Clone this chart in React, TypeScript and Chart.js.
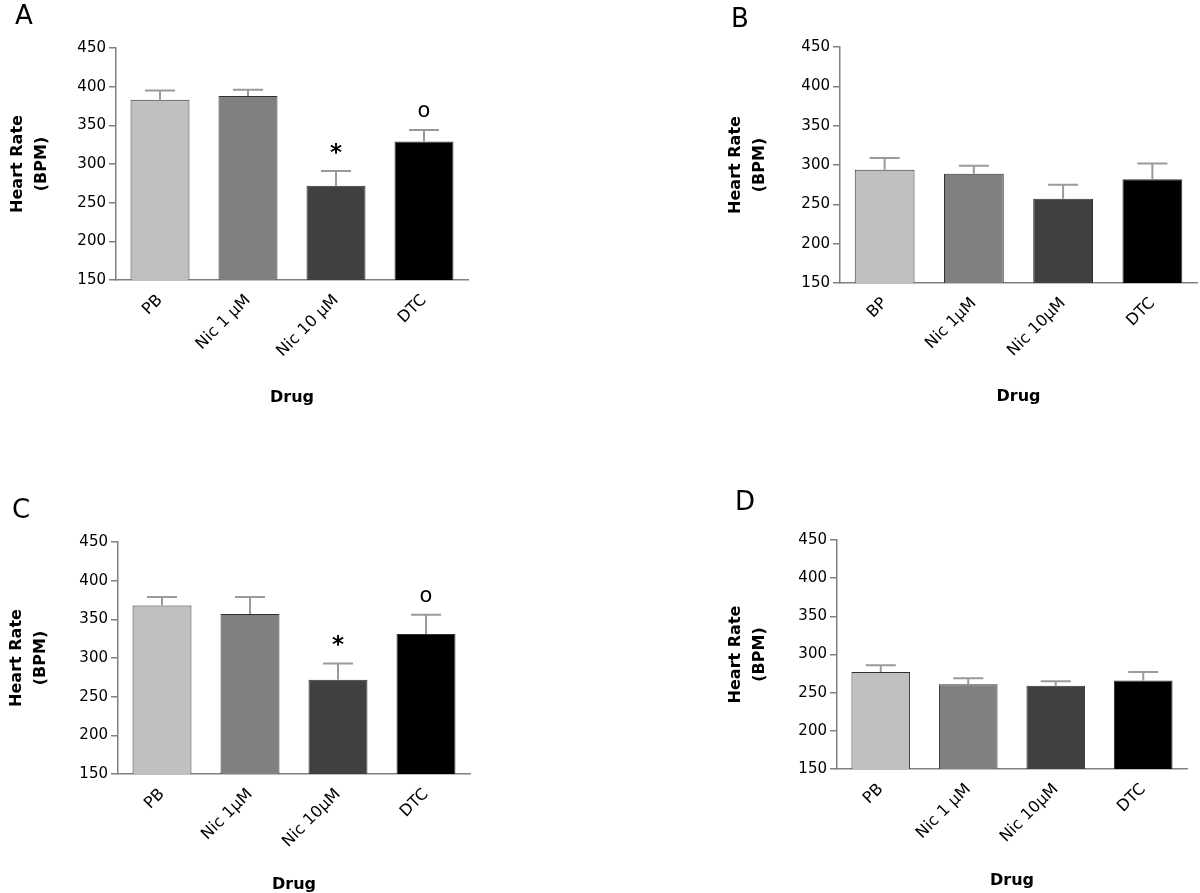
import React, { useEffect, useRef } from 'react';
import { Chart, registerables } from 'chart.js';

Chart.register(...registerables);

// ---------- data ----------
const yTickValues = [150, 200, 250, 300, 350, 400, 450];
const barColors = ['#c0c0c0', '#808080', '#404040', '#000000'];

const labelsA = ['PB', 'Nic 1 μM', 'Nic 10 μM', 'DTC'];
const meansA = [383, 388, 272, 329];
const semsA = [12, 8, 19, 15];
const marksA = ['', '', '*', 'o'];

const labelsB = ['BP', 'Nic 1μM', 'Nic 10μM', 'DTC'];
const meansB = [294, 289, 257, 282];
const semsB = [15, 10, 18, 20];
const marksB = ['', '', '', ''];

const labelsC = ['PB', 'Nic 1μM', 'Nic 10μM', 'DTC'];
const meansC = [368, 357, 272, 331];
const semsC = [11, 22, 21, 25];
const marksC = ['', '', '*', 'o'];

const labelsD = ['PB', 'Nic 1 μM', 'Nic 10μM', 'DTC'];
const meansD = [277, 261, 259, 266];
const semsD = [9, 8, 6, 11];
const marksD = ['', '', '', ''];

const yTitle = ['Heart Rate', '(BPM)'];
const xTitle = 'Drug';

const FONT = "'DejaVu Sans', 'Liberation Sans', Arial, sans-serif";

type Box = { x: number; y: number; w: number; h: number };
type Area = { l: number; r: number; t: number; b: number };

type PanelProps = {
  box: Box;
  area: Area;
  titleLine1: number;
  drugY: number;
  labels: string[];
  means: number[];
  sems: number[];
  marks: string[];
  letter: string;
  letterPos: { left: number; top: number };
};

const errorBarPlugin = {
  id: 'errorBars',
  afterDatasetsDraw(chart: any, _args: any, opts: any) {
    const { ctx } = chart;
    const meta = chart.getDatasetMeta(0);
    const yScale = chart.scales.y;
    const sems: number[] = opts.sems || [];
    const means: number[] = opts.means || [];
    const marks: string[] = opts.marks || [];
    ctx.save();
    meta.data.forEach((bar: any, i: number) => {
      const x = bar.x;
      const y0 = yScale.getPixelForValue(means[i]);
      const y1 = yScale.getPixelForValue(means[i] + sems[i]);
      ctx.strokeStyle = '#9a9a9a';
      ctx.lineWidth = 2;
      ctx.beginPath();
      ctx.moveTo(x, y0);
      ctx.lineTo(x, y1);
      ctx.moveTo(x - 15, y1);
      ctx.lineTo(x + 15, y1);
      ctx.stroke();
      const m = marks[i];
      if (m) {
        ctx.fillStyle = '#000';
        ctx.textAlign = 'center';
        ctx.textBaseline = 'alphabetic';
        if (m === '*') {
          ctx.font = `bold 23px ${FONT}`;
          ctx.fillText(m, x, y1 - 23 + 12);
        } else {
          ctx.font = `21px ${FONT}`;
          ctx.fillText(m, x, y1 - 19 + 6);
        }
      }
    });
    ctx.restore();
  },
};

function Panel(p: PanelProps) {
  const ref = useRef<HTMLCanvasElement>(null);
  useEffect(() => {
    if (!ref.current) return;
    const { box, area } = p;
    const yTitleLH = 24;
    const xTitleLH = 16 * 1.2;
    const chart = new Chart(ref.current, {
      type: 'bar',
      data: {
        labels: p.labels,
        datasets: [
          {
            data: p.means,
            backgroundColor: barColors,
            borderColor: '#303030',
            borderWidth: 1,
            barPercentage: 0.67,
            categoryPercentage: 1,
          },
        ],
      },
      options: {
        responsive: false,
        animation: false,
        devicePixelRatio: 1,
        layout: {
          padding: {
            left: 0,
            top: area.t - box.y,
            right: box.x + box.w - area.r,
            bottom: 0,
          },
        },
        plugins: {
          legend: { display: false },
          tooltip: { enabled: false },
          errorBars: { means: p.means, sems: p.sems, marks: p.marks },
        } as any,
        scales: {
          x: {
            grid: { display: false, drawTicks: true, tickLength: 8 },
            border: { display: true, color: '#808080', width: 1.5 },
            ticks: {
              autoSkip: false,
              minRotation: 45,
              maxRotation: 45,
              padding: 3,
              color: '#000',
              font: { family: FONT, size: 16 },
            },
            title: {
              display: true,
              text: xTitle,
              color: '#000',
              font: { family: FONT, size: 16, weight: 'bold', lineHeight: 1.2 },
              padding: { top: 0, bottom: box.y + box.h - p.drugY - xTitleLH / 2 },
            },
            afterFit: (s: any) => {
              s.height = box.y + box.h - area.b;
            },
          },
          y: {
            min: 150,
            max: 450,
            afterBuildTicks: (s: any) => {
              s.ticks = yTickValues.map((v) => ({ value: v }));
            },
            grid: {
              display: true,
              drawOnChartArea: false,
              drawTicks: true,
              tickLength: 7,
              color: '#808080',
              lineWidth: 1.5,
            },
            border: { display: true, color: '#808080', width: 1.5 },
            ticks: {
              padding: 3,
              color: '#000',
              font: { family: FONT, size: 15 },
            },
            title: {
              display: true,
              text: yTitle,
              color: '#000',
              font: { family: FONT, size: 16, weight: 'bold', lineHeight: 1.5 },
              padding: { top: p.titleLine1 - box.x - yTitleLH / 2, bottom: 0 },
            },
            afterFit: (s: any) => {
              s.width = area.l - box.x;
            },
          },
        },
      },
      plugins: [errorBarPlugin],
    });
    return () => chart.destroy();
  }, []);
  const { box } = p;
  return (
    <>
      <canvas
        ref={ref}
        width={box.w}
        height={box.h}
        style={{ position: 'absolute', left: box.x, top: box.y, width: box.w, height: box.h }}
      />
      <div
        style={{
          position: 'absolute',
          left: p.letterPos.left,
          top: p.letterPos.top,
          fontFamily: FONT,
          fontSize: 26,
          lineHeight: '26px',
          color: '#000',
        }}
      >
        {p.letter}
      </div>
    </>
  );
}

export default function App() {
  return (
    <div
      style={{
        position: 'absolute',
        left: 0,
        top: 0,
        width: 1200,
        height: 893,
        background: '#fff',
        overflow: 'hidden',
      }}
    >
      <Panel
        box={{ x: 0, y: 0, w: 480, h: 430 }}
        area={{ l: 116, r: 468, t: 48, b: 280 }}
        titleLine1={18}
        drugY={398}
        labels={labelsA}
        means={meansA}
        sems={semsA}
        marks={marksA}
        letter="A"
        letterPos={{ left: 15, top: 2 }}
      />
      <Panel
        box={{ x: 720, y: 0, w: 480, h: 430 }}
        area={{ l: 840, r: 1197, t: 47, b: 283 }}
        titleLine1={736}
        drugY={397}
        labels={labelsB}
        means={meansB}
        sems={semsB}
        marks={marksB}
        letter="B"
        letterPos={{ left: 731, top: 5 }}
      />
      <Panel
        box={{ x: 0, y: 470, w: 480, h: 423 }}
        area={{ l: 118, r: 470, t: 542, b: 774 }}
        titleLine1={17}
        drugY={885}
        labels={labelsC}
        means={meansC}
        sems={semsC}
        marks={marksC}
        letter="C"
        letterPos={{ left: 12, top: 496 }}
      />
      <Panel
        box={{ x: 720, y: 460, w: 480, h: 433 }}
        area={{ l: 837, r: 1187, t: 540, b: 769 }}
        titleLine1={736}
        drugY={881}
        labels={labelsD}
        means={meansD}
        sems={semsD}
        marks={marksD}
        letter="D"
        letterPos={{ left: 735, top: 488 }}
      />
    </div>
  );
}
